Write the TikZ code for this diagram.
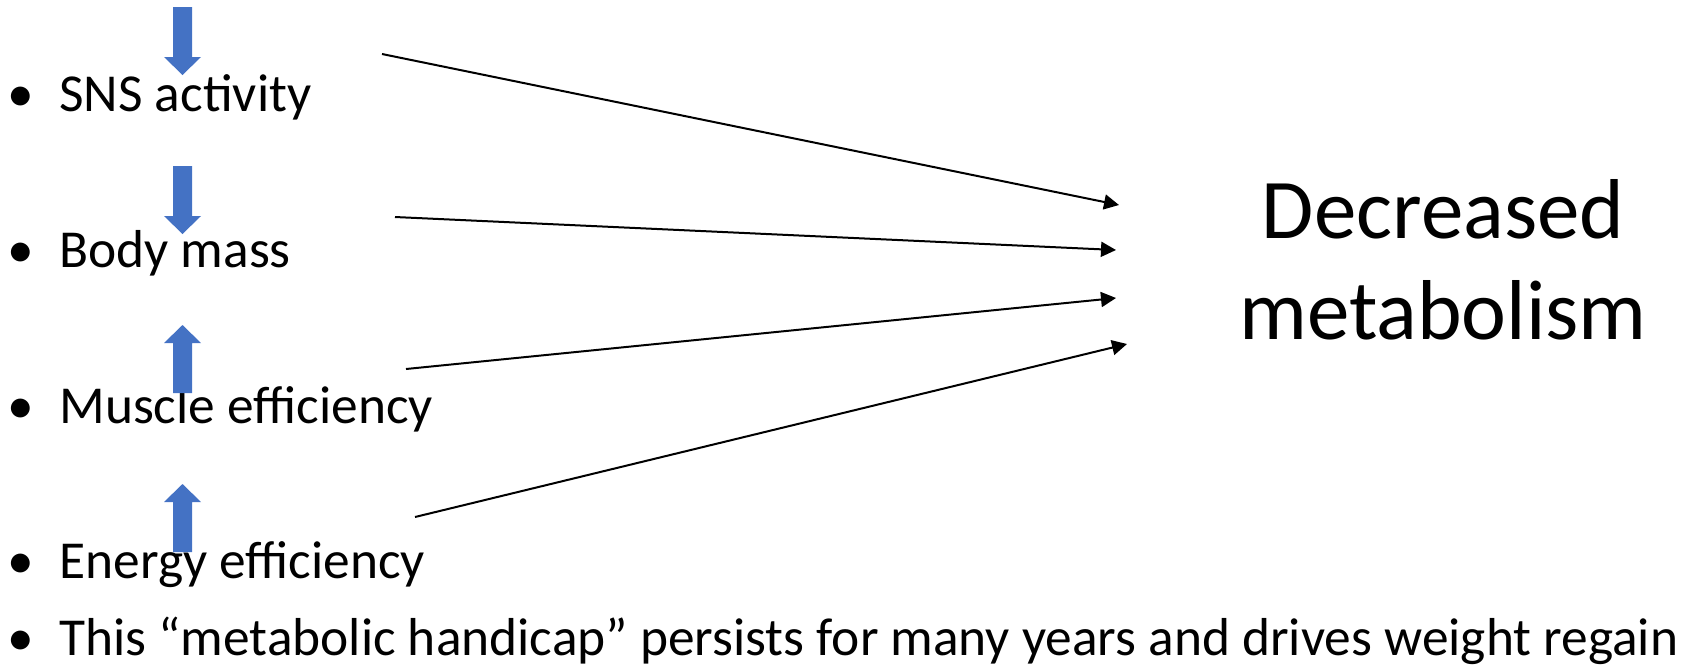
\documentclass[tikz,border=0pt]{standalone}
\usepackage{fontspec}
\setmainfont{Carlito}
\usetikzlibrary{arrows.meta,positioning}
\definecolor{officeblue}{HTML}{4472C4}

\begin{document}
\begin{tikzpicture}[
      x=0.5pt, y=-0.5pt,
      item/.style={anchor=base west, inner sep=0pt, font=\fontsize{26.7pt}{32pt}\selectfont},
      result/.style={anchor=base, inner sep=0pt, align=center, font=\fontsize{42.5pt}{50.5pt}\selectfont},
      link/.style={line width=1pt, -{Triangle[length=7.5pt, width=7.5pt]}},
      trend/.style={fill=officeblue}
    ]
    \useasboundingbox (0,0) rectangle (1691,666);
    % list of changes
    \node[item] (sns)    at (0,111) {\makebox[20pt]{•}\hspace{9.5pt}SNS activity};
    \node[item] (mass)   at (0,267) {\makebox[20pt]{•}\hspace{9.5pt}Body mass};
    \node[item] (muscle) at (0,423) {\makebox[20pt]{•}\hspace{9.5pt}Muscle efficiency};
    \node[item] (energy) at (0,578) {\makebox[20pt]{•}\hspace{9.5pt}Energy efficiency};
    \node[item] (note)   at (0,655) {\makebox[20pt]{•}\hspace{9.5pt}This “metabolic handicap” persists for many years and drives weight regain};
    % outcome
    \node[result] (meta) at (1443,339) {Decreased\\metabolism};
    % up and down marks
    \foreach \a/\b/\c in {7/57/75, 166/216/234, 393/343/325, 552/502/484}
      \fill[trend] (173,\a) -- (192,\a) -- (192,\b) -- (201,\b) -- (182.5,\c) -- (164,\b) -- (173,\b) -- cycle;
    % connectors
    \coordinate (s1) at (382,54);
    \coordinate (s2) at (395,217);
    \coordinate (s3) at (406,369);
    \coordinate (s4) at (415,517);
    \coordinate (t1) at (1119,205);
    \coordinate (t2) at (1116,250);
    \coordinate (t3) at (1116,298);
    \coordinate (t4) at (1127,344);
    \draw[link] (s1) -- (t1);
    \draw[link] (s2) -- (t2);
    \draw[link] (s3) -- (t3);
    \draw[link] (s4) -- (t4);
  \end{tikzpicture}
\end{document}
